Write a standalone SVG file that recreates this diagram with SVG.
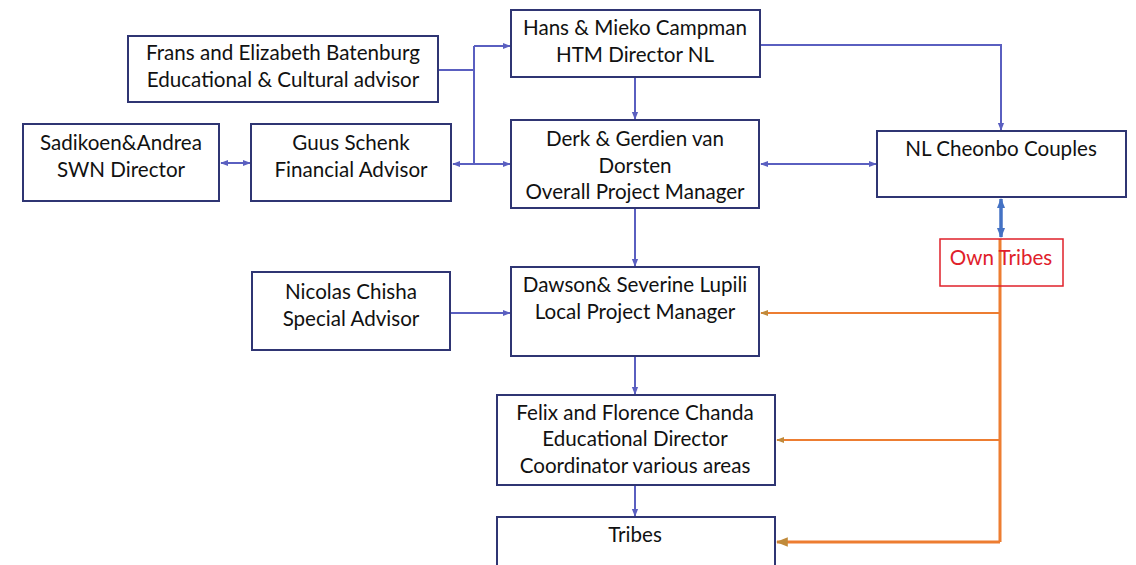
<svg xmlns="http://www.w3.org/2000/svg" width="1136" height="565" viewBox="0 0 1136 565">
<style>
.box{fill:#fff;stroke:#2f3573;stroke-width:2}
.t{font-family:Lato,"Liberation Sans",sans-serif;font-size:20.6px;fill:#111;text-anchor:middle}
.c{fill:none;stroke:#5a5fc0;stroke-width:2}
.cb{fill:none;stroke:#4472c4;stroke-width:3.5}
.o{fill:none;stroke:#ed7d31;stroke-width:2}
.ot{fill:none;stroke:#ed7d31;stroke-width:3}
</style>
<defs>
<marker id="a" viewBox="0 0 10 10" refX="9" refY="5" markerWidth="4" markerHeight="4" orient="auto-start-reverse"><path d="M0,1 L10,5 L0,9 z" fill="#5a5fc0"/></marker>
<marker id="ab" viewBox="0 0 10 10" refX="9" refY="5" markerWidth="3" markerHeight="3" orient="auto-start-reverse"><path d="M0,1 L10,5 L0,9 z" fill="#4472c4"/></marker>
<marker id="ao" viewBox="0 0 10 10" refX="9" refY="5" markerWidth="4" markerHeight="4" orient="auto"><path d="M0,1 L10,5 L0,9 z" fill="#c08a3a"/></marker>
</defs>
<rect width="1136" height="565" fill="#fff"/>
<g id="connectors">
<path class="c" d="M438,70 H474"/>
<path class="c" d="M474,46 V164"/>
<path class="c" d="M474,46 H510" marker-end="url(#a)"/>
<path class="c" d="M453,164 H510" marker-start="url(#a)" marker-end="url(#a)"/>
<path class="c" d="M221,163 H250" marker-start="url(#a)" marker-end="url(#a)"/>
<path class="c" d="M635,77 V119" marker-end="url(#a)"/>
<path class="c" d="M760,45 H1001 V130" marker-end="url(#a)"/>
<path class="c" d="M761,164 H876" marker-start="url(#a)" marker-end="url(#a)"/>
<path class="c" d="M635,208 V266" marker-end="url(#a)"/>
<path class="c" d="M450,313 H510" marker-end="url(#a)"/>
<path class="c" d="M635,356 V394" marker-end="url(#a)"/>
<path class="c" d="M635,485 V516" marker-end="url(#a)"/>
<path class="cb" d="M1001,199 V237" marker-start="url(#ab)" marker-end="url(#ab)"/>
<path class="ot" d="M1000,239 V542"/>
<path class="o" d="M1000,313 H761" marker-end="url(#ao)"/>
<path class="o" d="M1000,440 H777" stroke-width="1.5" marker-end="url(#ao)"/>
<path class="ot" d="M1000,542 H777" marker-end="url(#ao)"/>
</g>
<g id="frans"><rect class="box" x="128" y="36" width="310" height="66"/><text class="t" x="283" y="60">Frans and Elizabeth Batenburg</text><text class="t" x="283" y="87">Educational &amp; Cultural advisor</text></g>
<g id="hans"><rect class="box" x="511" y="10" width="249" height="67"/><text class="t" x="635" y="35">Hans &amp; Mieko Campman</text><text class="t" x="635" y="62">HTM Director NL</text></g>
<g id="sadikoen"><rect class="box" x="23" y="124" width="196" height="77"/><text class="t" x="121" y="150">Sadikoen&amp;Andrea</text><text class="t" x="121" y="177">SWN Director</text></g>
<g id="guus"><rect class="box" x="251" y="124" width="200" height="77"/><text class="t" x="351" y="150">Guus Schenk</text><text class="t" x="351" y="177">Financial Advisor</text></g>
<g id="derk"><rect class="box" x="511" y="120" width="248" height="88"/><text class="t" x="635" y="146">Derk &amp; Gerdien van</text><text class="t" x="635" y="173">Dorsten</text><text class="t" x="635" y="199">Overall Project Manager</text></g>
<g id="nl"><rect class="box" x="877" y="131" width="249" height="66"/><text class="t" x="1001" y="156">NL Cheonbo Couples</text></g>
<g id="owntribes"><rect x="940" y="239" width="123" height="47" fill="none" stroke="#e0202a" stroke-width="1.5"/><text class="t" x="1001" y="265" style="fill:#e0202a">Own Tribes</text></g>
<g id="nicolas"><rect class="box" x="252" y="272" width="198" height="78"/><text class="t" x="351" y="299">Nicolas Chisha</text><text class="t" x="351" y="326">Special Advisor</text></g>
<g id="dawson"><rect class="box" x="511" y="267" width="248" height="89"/><text class="t" x="635" y="292">Dawson&amp; Severine Lupili</text><text class="t" x="635" y="319">Local Project Manager</text></g>
<g id="felix"><rect class="box" x="497" y="395" width="278" height="90"/><text class="t" x="635" y="420">Felix and Florence Chanda</text><text class="t" x="635" y="446">Educational Director</text><text class="t" x="635" y="473">Coordinator various areas</text></g>
<g id="tribes"><rect class="box" x="497" y="517" width="278" height="60"/><text class="t" x="635" y="542">Tribes</text></g>
</svg>
